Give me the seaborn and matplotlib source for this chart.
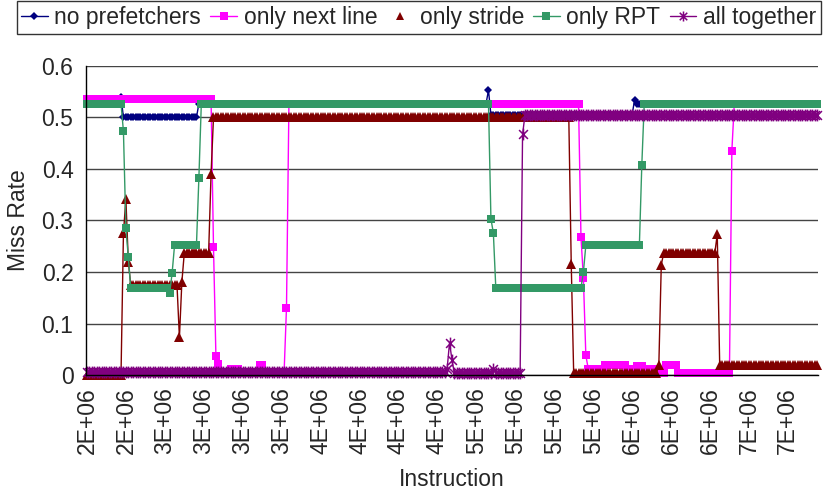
import numpy as np
import matplotlib
matplotlib.use("Agg")
import matplotlib.pyplot as plt
from matplotlib.lines import Line2D
from matplotlib.path import Path
import seaborn as sns

# series values as runs (level, number of samples)
no_pref_lv = [0.527, 0.54, 0.50, 0.527, 0.553, 0.505, 0.533, 0.527]
no_pref_n = [14, 1, 31, 119, 1, 59, 1, 75]

next_line_lv = [0.535, 0.249, 0.036, 0.022, 0.003, 0.012, 0.003, 0.019, 0.003, 0.131,
                0.527, 0.268, 0.188, 0.038, 0.012, 0.02, 0.012, 0.018, 0.012, 0.004,
                0.02, 0.003, 0.435, 0.527]
next_line_n = [52, 1, 1, 1, 4, 4, 8, 2, 9, 1,
               120, 1, 1, 1, 7, 9, 4, 3, 6, 3,
               5, 22, 1, 35]

stride_lv = [0.0, 0.275, 0.342, 0.22, 0.175, 0.073, 0.18, 0.237, 0.39, 0.50,
             0.216, 0.004, 0.02, 0.214, 0.237, 0.273, 0.02]
stride_n = [15, 1, 1, 1, 20, 1, 1, 11, 1, 147,
            1, 35, 1, 1, 22, 1, 41]

rpt_lv = [0.527, 0.473, 0.285, 0.229, 0.169, 0.159, 0.198, 0.252, 0.383, 0.527,
          0.303, 0.276, 0.169, 0.2, 0.252, 0.408, 0.527]
rpt_n = [15, 1, 1, 1, 16, 1, 1, 10, 1, 119,
         1, 1, 36, 1, 23, 1, 72]

all_lv = [0.005, 0.012, 0.063, 0.029, 0.003, 0.012, 0.003, 0.467, 0.505]
all_n = [148, 1, 1, 1, 16, 1, 11, 1, 121]

tick_labels = ["2E+06", "2E+06", "3E+06", "3E+06", "3E+06", "3E+06", "4E+06",
               "4E+06", "4E+06", "4E+06", "5E+06", "5E+06", "5E+06", "5E+06",
               "6E+06", "6E+06", "6E+06", "7E+06", "7E+06"]
label_every = 16

names = ["no prefetchers", "only next line", "only stride", "only RPT", "all together"]
series = [(no_pref_lv, no_pref_n), (next_line_lv, next_line_n), (stride_lv, stride_n),
          (rpt_lv, rpt_n), (all_lv, all_n)]

# excel style star: an x with a vertical bar
star = Path([(0, -1), (0, 1), (-0.75, -0.75), (0.75, 0.75), (-0.75, 0.75), (0.75, -0.75)],
            [Path.MOVETO, Path.LINETO] * 3)

colors = ["#000080", "#FF00FF", "#800000", "#339966", "#800080"]
markers = ["D", "s", "^", "s", star]
msizes = [4.5, 6.0, 7.0, 6.2, 8.5]

sns.set_style("white")
plt.rcParams["font.family"] = ["Liberation Sans", "DejaVu Sans"]

fig, ax = plt.subplots(figsize=(8.33, 4.95), dpi=100)
fig.subplots_adjust(left=0.1032, right=0.982, top=0.8667, bottom=0.2424)

handles = []
for name, (lv, n), c, m, ms in zip(names, series, colors, markers, msizes):
    vals = np.repeat(lv, n)
    xs = np.arange(len(vals))
    is_star = m is star
    mew = 1.1 if is_star else 0
    sns.lineplot(x=xs, y=vals, ax=ax, color=c, linewidth=1, marker=m, markersize=ms,
                 markeredgecolor=c, markeredgewidth=mew,
                 sort=False, legend=False, clip_on=False)
    ls = "none" if name == "only stride" else "-"
    handles.append(Line2D([], [], color=c, lw=1, ls=ls, marker=m, markersize=ms * 0.85,
                          markeredgecolor=c, markeredgewidth=mew))

n_cat = sum(no_pref_n)
ax.set_xlim(-0.4, n_cat - 0.6)
ax.set_ylim(0, 0.6)
ax.set_yticks(np.arange(0, 0.61, 0.1))
ax.set_yticklabels(["0", "0.1", "0.2", "0.3", "0.4", "0.5", "0.6"])
ax.set_xticks(np.arange(len(tick_labels)) * label_every)
ax.set_xticklabels(tick_labels, rotation=90)
ax.set_xticks(np.arange(n_cat), minor=True)
ax.tick_params(axis="both", which="both", direction="out", length=6, width=0.8,
               color="#222222", labelsize=16.5, pad=3)
ax.tick_params(axis="x", which="minor", width=0.7)
ax.yaxis.grid(True, color="#444444", linewidth=1)
ax.set_axisbelow(True)
for side in ["top", "right"]:
    ax.spines[side].set_visible(False)
for side in ["left", "bottom"]:
    ax.spines[side].set_color("black")
    ax.spines[side].set_linewidth(1)

ax.set_xlabel("Instruction", fontsize=16.5, labelpad=10)
ax.set_ylabel("Miss Rate", fontsize=16.5, labelpad=8)

leg = fig.legend(handles, names, ncol=5, loc="upper left", bbox_to_anchor=(0.02, 0.997),
                 fontsize=16.5, frameon=True, fancybox=False, edgecolor="black",
                 handlelength=1.15, handletextpad=0.3, columnspacing=0.4,
                 borderpad=0.2, borderaxespad=0)
leg.get_frame().set_linewidth(1)

fig.savefig("out.png", dpi=100)
